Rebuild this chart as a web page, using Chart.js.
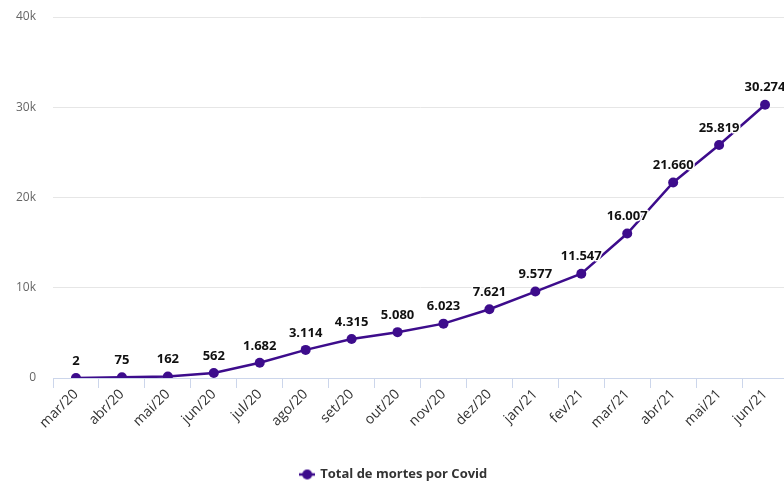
<!DOCTYPE html>
<html><head><meta charset="utf-8">
<script src="https://cdn.jsdelivr.net/npm/chart.js@4/dist/chart.umd.min.js"></script>
<style>
html,body{margin:0;padding:0;background:#fff;overflow:hidden;width:784px;height:483px;}
#wrap{width:800px;height:483px;position:relative;}
</style></head>
<body><div id="wrap"><canvas id="c"></canvas></div>
<script>
const categories = ['mar/20','abr/20','mai/20','jun/20','jul/20','ago/20','set/20','out/20','nov/20','dez/20','jan/21','fev/21','mar/21','abr/21','mai/21','jun/21'];
const deaths = [2,75,162,562,1682,3114,4315,5080,6023,7621,9577,11547,16007,21660,25819,30274];
const seriesName = 'Total de mortes por Covid';
const yTicks = [0,10000,20000,30000,40000];

const COLOR = '#3d0c8c';
const FONT = '"Open Sans", "DejaVu Sans", sans-serif';

function fmt(v){ return v.toLocaleString('de-DE'); }

// legend symbol: line + circle
const sym = document.createElement('canvas');
sym.width = 16; sym.height = 12;
(function(){
  const g = sym.getContext('2d');
  g.strokeStyle = COLOR; g.lineWidth = 2.5;
  g.beginPath(); g.moveTo(0,6); g.lineTo(16,6); g.stroke();
  g.fillStyle = COLOR; g.beginPath(); g.arc(8,6,5,0,Math.PI*2); g.fill();
})();

const dataLabels = {
  id:'dataLabels',
  afterDatasetsDraw(chart){
    const ctx = chart.ctx;
    const meta = chart.getDatasetMeta(0);
    ctx.save();
    ctx.font = 'bold 13px ' + FONT;
    ctx.textAlign = 'center';
    ctx.textBaseline = 'middle';
    ctx.lineJoin = 'round';
    meta.data.forEach((pt,i)=>{
      const t = fmt(deaths[i]);
      ctx.strokeStyle = '#fff'; ctx.lineWidth = 3;
      ctx.strokeText(t, pt.x, pt.y - 17);
      ctx.fillStyle = '#111';
      ctx.fillText(t, pt.x, pt.y - 17);
    });
    ctx.restore();
  }
};

new Chart(document.getElementById('c'), {
  type:'line',
  data:{ labels:categories, datasets:[{
    label:seriesName, data:deaths,
    borderColor:COLOR, backgroundColor:COLOR,
    borderWidth:2.5, pointRadius:5, pointHoverRadius:5,
    pointBackgroundColor:COLOR, pointBorderWidth:0, tension:0
  }]},
  options:{
    responsive:true, maintainAspectRatio:false, animation:false,
    layout:{padding:{left:0,right:12,top:17,bottom:-8}},
    plugins:{
      tooltip:{enabled:false},
      legend:{
        position:'bottom',
        labels:{
          usePointStyle:true, pointStyle:sym,
          color:'#333', font:{family:FONT,size:13,weight:'bold'},
          padding:4,
          generateLabels(){ return [{text:seriesName, pointStyle:sym, fillStyle:COLOR, strokeStyle:COLOR, lineWidth:0, hidden:false, datasetIndex:0, fontColor:'#333'}]; }
        }
      }
    },
    scales:{
      x:{
        offset:true,
        afterFit(s){ s.height = 86; },
        grid:{display:true, drawOnChartArea:false, drawTicks:true, tickLength:10, color:'#ccd6eb', offset:true},
        border:{display:true,color:'#ccd6eb',width:1},
        ticks:{minRotation:45,maxRotation:45,autoSkip:false,color:'#333',font:{family:FONT,size:14},padding:-2}
      },
      y:{
        min:0,max:40000,
        afterFit(s){ s.width = 53; s.paddingTop = 0; s.paddingBottom = 0; },
        afterBuildTicks(s){ s.ticks = yTicks.map(v=>({value:v})); },
        grid:{color:'#e6e6e6',drawTicks:false,lineWidth:1},
        border:{display:false},
        ticks:{padding:17,color:'#666',font:{family:FONT,size:12},
          callback(v){ return v===0 ? '0' : (v/1000)+'k'; }}
      }
    }
  },
  plugins:[dataLabels]
});
</script></body></html>
